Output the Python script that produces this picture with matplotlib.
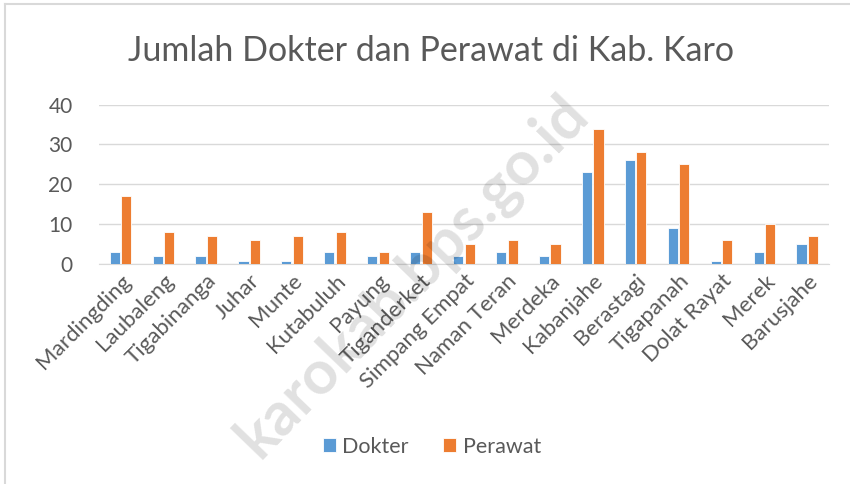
import matplotlib
matplotlib.use("Agg")
import matplotlib.pyplot as plt
import numpy as np

kecamatan = ["Mardingding", "Laubaleng", "Tigabinanga", "Juhar", "Munte",
             "Kutabuluh", "Payung", "Tiganderket", "Simpang Empat",
             "Naman Teran", "Merdeka", "Kabanjahe", "Berastagi", "Tigapanah",
             "Dolat Rayat", "Merek", "Barusjahe"]
dokter = [3, 2, 2, 0.7, 0.7, 3, 2, 3, 2, 3, 2, 23, 26, 9, 0.7, 3, 5]
perawat = [17, 8, 7, 6, 7, 8, 3, 13, 5, 6, 5, 34, 28, 25, 6, 10, 7]

BLUE = "#5B9BD5"
ORANGE = "#ED7D31"
TEXT = "#595959"

plt.rcParams["font.family"] = ["Lato", "DejaVu Sans"]

fig = plt.figure(figsize=(8.5, 4.84), dpi=100)
ax = fig.add_axes([0.1165, 0.455, 0.8585, 0.3287])

x = np.arange(len(kecamatan))
w = 0.235
ax.bar(x - 0.135, dokter, w, color=BLUE, edgecolor="white", linewidth=0.6,
       label="Dokter", zorder=3)
ax.bar(x + 0.135, perawat, w, color=ORANGE, edgecolor="white", linewidth=0.6,
       label="Perawat", zorder=3)

ax.set_xlim(-0.5, len(kecamatan) - 0.5)
ax.set_ylim(0, 40)
ax.set_yticks([0, 10, 20, 30, 40])
ax.grid(axis="y", color="#D9D9D9", linewidth=1.0, zorder=0)
for s in ["top", "right", "left"]:
    ax.spines[s].set_visible(False)
ax.spines["bottom"].set_color("#D9D9D9")
ax.tick_params(axis="both", length=0, colors=TEXT)
ax.tick_params(axis="y", pad=19, labelsize=15)
ax.set_xticks(x)
ax.set_xticklabels(kecamatan, rotation=45, ha="right", rotation_mode="anchor",
                   fontsize=16, color=TEXT)
ax.tick_params(axis="x", pad=5)

fig.text(0.507, 0.895, "Jumlah Dokter dan Perawat di Kab. Karo",
         ha="center", va="center", fontsize=24.5, color=TEXT)

leg = fig.legend(loc="center", bbox_to_anchor=(0.508, 0.077), ncol=2,
                 frameon=False, fontsize=15.5, handlelength=0.6,
                 handleheight=0.6, handletextpad=0.3, columnspacing=1.6)
for t in leg.get_texts():
    t.set_color(TEXT)

# chart border (top and left visible)
fig.add_artist(plt.Line2D([0.006, 0.006], [0, 0.992], color="#D9D9D9",
                          linewidth=1.5, transform=fig.transFigure))
fig.add_artist(plt.Line2D([0.006, 1], [0.992, 0.992], color="#D9D9D9",
                          linewidth=1.5, transform=fig.transFigure))

# watermark
fig.text(0.485, 0.43, "karokab.bps.go.id", ha="center", va="center",
         rotation=46, fontsize=44, fontweight="bold", color="black",
         alpha=0.12, zorder=10)

fig.savefig("out.png", dpi=100)
